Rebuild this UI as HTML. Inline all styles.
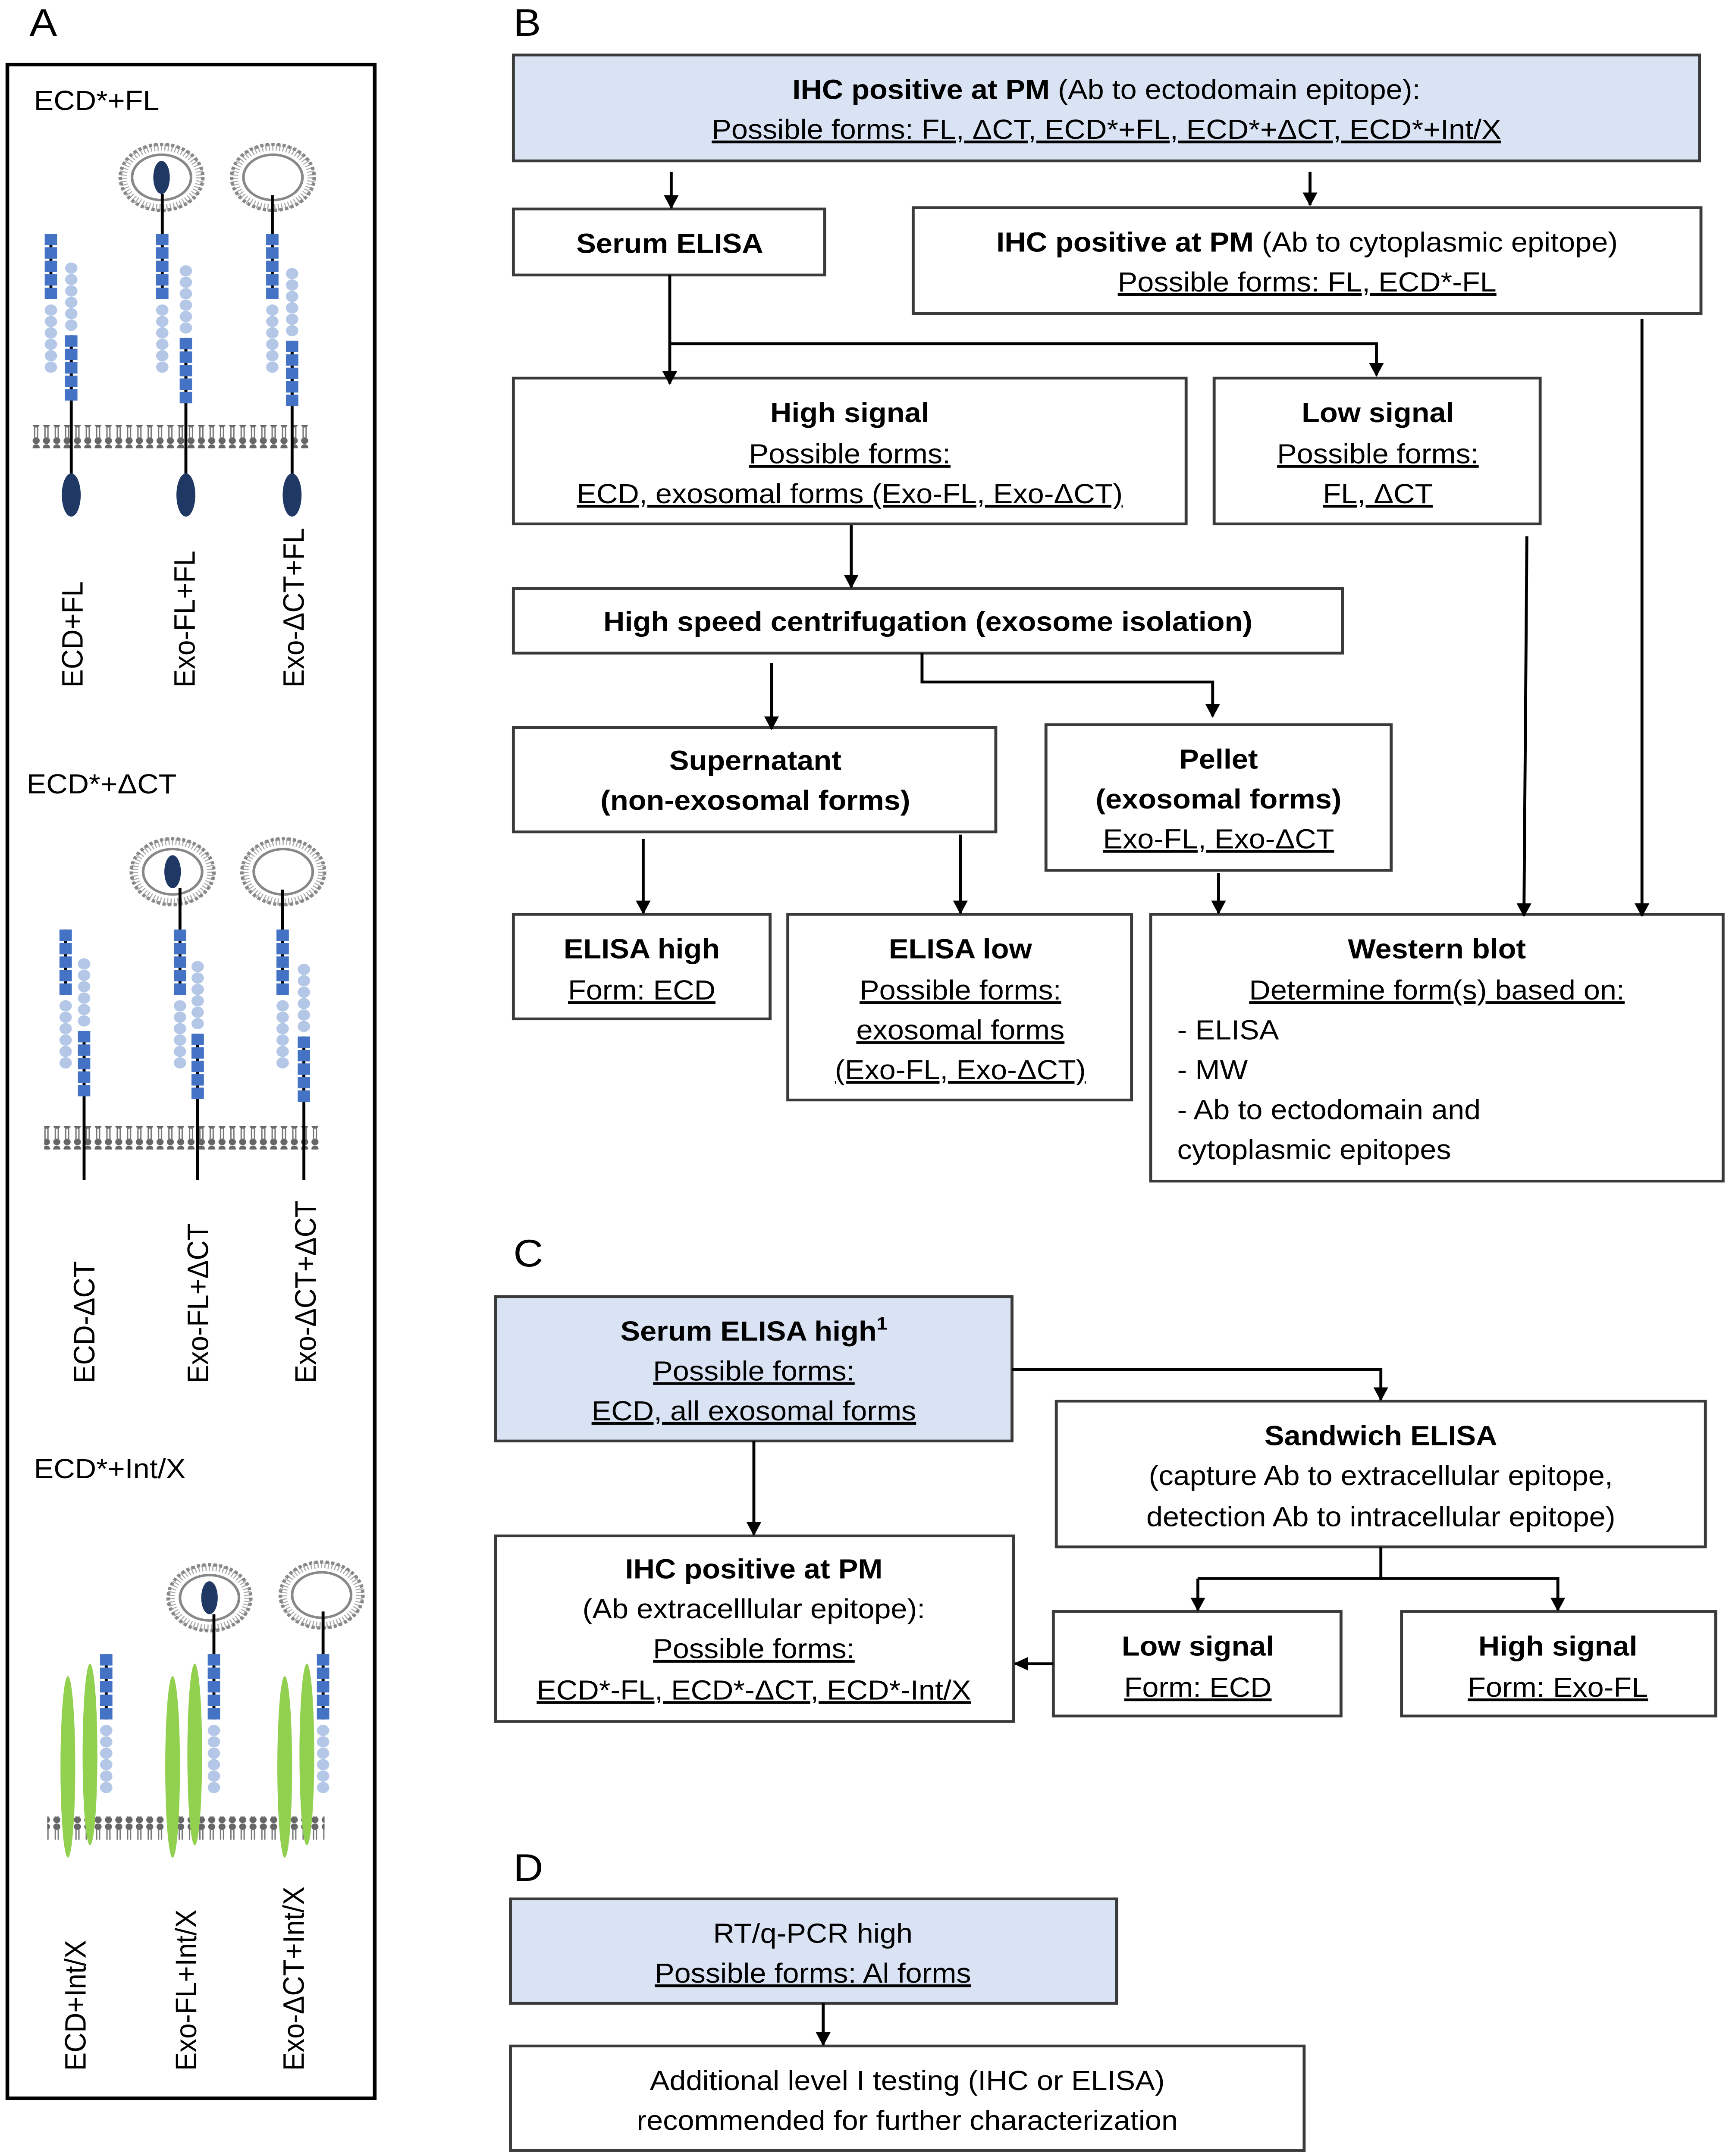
<!DOCTYPE html>
<html><head><meta charset="utf-8"><style>
html,body{margin:0;padding:0;background:#fff;overflow:hidden;width:100%;height:100%}
svg{display:block;width:100vw;height:100vh}
text{font-family:"Liberation Sans",sans-serif;font-size:20px;fill:#000}
.b{font-weight:bold}
.u{text-decoration:underline}
</style></head><body>
<svg id="s" xmlns="http://www.w3.org/2000/svg" viewBox="0 0 1172 1568" preserveAspectRatio="none">
<defs>
<marker id="ar" markerWidth="10" markerHeight="10" refX="9" refY="5" orient="auto" markerUnits="userSpaceOnUse"><path d="M0,0 L10,5 L0,10 z" fill="#000"/></marker>
<pattern id="mem" x="0" y="0" width="7" height="17" patternUnits="userSpaceOnUse">
<circle cx="3.5" cy="2.5" r="2.4" fill="#666"/><circle cx="3.5" cy="14.5" r="2.4" fill="#666"/>
<line x1="2.5" y1="4" x2="2.5" y2="13" stroke="#777" stroke-width="0.9"/><line x1="4.5" y1="4" x2="4.5" y2="13" stroke="#777" stroke-width="0.9"/>
</pattern>
</defs>
<rect width="1172" height="1568" fill="#fff"/>
<rect x="5" y="47" width="249" height="1479" fill="none" stroke="#000" stroke-width="2.5"/>
<text x="20" y="26" style="font-size:28px">A</text>
<text x="348" y="26" style="font-size:28px">B</text>
<text x="348" y="921" style="font-size:28px">C</text>
<text x="348" y="1368" style="font-size:28px">D</text>
<text x="23" y="80">ECD*+FL</text>
<text x="18" y="577">ECD*+ΔCT</text>
<text x="23" y="1075">ECD*+Int/X</text>
<g id="A"></g>
<g transform="rotate(-90 56 500)"><text x="56" y="500">ECD+FL</text></g>
<g transform="rotate(-90 132 500)"><text x="132" y="500">Exo-FL+FL</text></g>
<g transform="rotate(-90 206 500)"><text x="206" y="500">Exo-ΔCT+FL</text></g>
<g transform="rotate(-90 64 1006)"><text x="64" y="1006">ECD-ΔCT</text></g>
<g transform="rotate(-90 141 1006)"><text x="141" y="1006">Exo-FL+ΔCT</text></g>
<g transform="rotate(-90 214 1006)"><text x="214" y="1006">Exo-ΔCT+ΔCT</text></g>
<g transform="rotate(-90 58 1506)"><text x="58" y="1506">ECD+Int/X</text></g>
<g transform="rotate(-90 133 1506)"><text x="133" y="1506">Exo-FL+Int/X</text></g>
<g transform="rotate(-90 206 1506)"><text x="206" y="1506">Exo-ΔCT+Int/X</text></g>

<g fill="none" stroke="#3a3a3a" stroke-width="2">
<rect x="348" y="40" width="804" height="77" fill="#dae3f3"/>
<rect x="348" y="152" width="211" height="48"/>
<rect x="619" y="151" width="534" height="77"/>
<rect x="348" y="275" width="456" height="106"/>
<rect x="823" y="275" width="221" height="106"/>
<rect x="348" y="428" width="562" height="47"/>
<rect x="348" y="529" width="327" height="76"/>
<rect x="709" y="527" width="234" height="106"/>
<rect x="348" y="665" width="174" height="76"/>
<rect x="534" y="665" width="233" height="135"/>
<rect x="780" y="665" width="388" height="194"/>
<rect x="336" y="943" width="350" height="105" fill="#dae3f3"/>
<rect x="716" y="1019" width="440" height="106"/>
<rect x="336" y="1117" width="351" height="135"/>
<rect x="714" y="1172" width="195" height="76"/>
<rect x="950" y="1172" width="213" height="76"/>
<rect x="346" y="1381" width="411" height="76" fill="#dae3f3"/>
<rect x="346" y="1488" width="538" height="76"/>
</g>
<g fill="none" stroke="#000" stroke-width="2">
<line x1="455" y1="125" x2="455" y2="151" marker-end="url(#ar)"/>
<line x1="888" y1="125" x2="888" y2="149" marker-end="url(#ar)"/>
<line x1="454" y1="200" x2="454" y2="279" marker-end="url(#ar)"/>
<polyline points="454,250 933,250 933,273" marker-end="url(#ar)"/>
<line x1="577" y1="382" x2="577" y2="427" marker-end="url(#ar)"/>
<line x1="523" y1="482" x2="523" y2="530" marker-end="url(#ar)"/>
<polyline points="625,475 625,496 822,496 822,521" marker-end="url(#ar)"/>
<line x1="436" y1="610" x2="436" y2="664" marker-end="url(#ar)"/>
<line x1="651" y1="607" x2="651" y2="664" marker-end="url(#ar)"/>
<line x1="826" y1="635" x2="826" y2="664" marker-end="url(#ar)"/>
<line x1="1035" y1="390" x2="1033" y2="666" marker-end="url(#ar)"/>
<line x1="1113" y1="232" x2="1113" y2="666" marker-end="url(#ar)"/>
<polyline points="686,996 936,996 936,1018" marker-end="url(#ar)"/>
<line x1="511" y1="1048" x2="511" y2="1116" marker-end="url(#ar)"/>
<line x1="936" y1="1125" x2="936" y2="1148"/>
<polyline points="812,1148 812,1171" marker-end="url(#ar)"/>
<polyline points="812,1148 1056,1148 1056,1171" marker-end="url(#ar)"/>
<line x1="714" y1="1210" x2="688" y2="1210" marker-end="url(#ar)"/>
<line x1="558" y1="1457" x2="558" y2="1487" marker-end="url(#ar)"/>
</g>
<g text-anchor="middle">
<text x="750" y="72"><tspan class="b">IHC positive at PM</tspan> (Ab to ectodomain epitope):</text>
<text x="750" y="101" class="u">Possible forms: FL, ΔCT, ECD*+FL, ECD*+ΔCT, ECD*+Int/X</text>
<text x="454" y="184" class="b">Serum ELISA</text>
<text x="886" y="183"><tspan class="b">IHC positive at PM</tspan>  (Ab to cytoplasmic epitope)</text>
<text x="886" y="212" class="u">Possible forms: FL, ECD*-FL</text>
<text x="576" y="307" class="b">High signal</text>
<text x="576" y="337" class="u">Possible forms:</text>
<text x="576" y="366" class="u">ECD, exosomal forms (Exo-FL, Exo-ΔCT)</text>
<text x="934" y="307" class="b">Low signal</text>
<text x="934" y="337" class="u">Possible forms:</text>
<text x="934" y="366" class="u">FL, ΔCT</text>
<text x="629" y="459" class="b">High speed centrifugation (exosome isolation)</text>
<text x="512" y="560" class="b">Supernatant</text>
<text x="512" y="589" class="b">(non-exosomal forms)</text>
<text x="826" y="559" class="b">Pellet</text>
<text x="826" y="588" class="b">(exosomal forms)</text>
<text x="826" y="617" class="u">Exo-FL, Exo-ΔCT</text>
<text x="435" y="697" class="b">ELISA high</text>
<text x="435" y="727" class="u">Form: ECD</text>
<text x="651" y="697" class="b">ELISA low</text>
<text x="651" y="727" class="u">Possible forms:</text>
<text x="651" y="756" class="u">exosomal forms</text>
<text x="651" y="785" class="u">(Exo-FL, Exo-ΔCT)</text>
<text x="974" y="697" class="b">Western blot</text>
<text x="974" y="727" class="u">Determine form(s) based on:</text>
<text x="511" y="975" class="b">Serum ELISA high<tspan style="font-size:13px" dy="-8">1</tspan></text>
<text x="511" y="1004" class="u">Possible forms:</text>
<text x="511" y="1033" class="u">ECD, all exosomal forms</text>
<text x="936" y="1051" class="b">Sandwich ELISA</text>
<text x="936" y="1080">(capture Ab to extracellular epitope,</text>
<text x="936" y="1110">detection Ab to intracellular epitope)</text>
<text x="511" y="1148" class="b">IHC positive at PM</text>
<text x="511" y="1177">(Ab extracelllular epitope):</text>
<text x="511" y="1206" class="u">Possible forms:</text>
<text x="511" y="1236" class="u">ECD*-FL, ECD*-ΔCT, ECD*-Int/X</text>
<text x="812" y="1204" class="b">Low signal</text>
<text x="812" y="1234" class="u">Form: ECD</text>
<text x="1056" y="1204" class="b">High signal</text>
<text x="1056" y="1234" class="u">Form: Exo-FL</text>
<text x="551" y="1413">RT/q-PCR high</text>
<text x="551" y="1442" class="u">Possible forms: Al forms</text>
<text x="615" y="1520">Additional level I testing (IHC or ELISA)</text>
<text x="615" y="1549">recommended  for further characterization</text>
</g>
<text x="798" y="756">- ELISA</text>
<text x="798" y="785">- MW</text>
<text x="798" y="814">- Ab to ectodomain and</text>
<text x="798" y="843">cytoplasmic epitopes</text>
</svg>
<script>
var NS="http://www.w3.org/2000/svg",G=document.getElementById("A");
function el(t,a){var e=document.createElementNS(NS,t);for(var k in a)e.setAttribute(k,a[k]);G.appendChild(e);return e;}
function line(x,y1,y2){el("line",{x1:x,y1:y1,x2:x,y2:y2,stroke:"#000","stroke-width":2});}
function sq(x,top,n){line(x,top,top+n*9.8-1.5);for(var i=0;i<n;i++)el("rect",{x:x-4.2,y:top+i*9.8,width:8.4,height:8.3,fill:"#4472c4"});return top+n*9.8;}
function ci(x,c0,n){for(var i=0;i<n;i++)el("ellipse",{cx:x,cy:c0+i*8.3,rx:4.2,ry:4.1,fill:"#b4c7e7"});}
function ves(x,y,dark){el("ellipse",{cx:x,cy:y,rx:26,ry:22,fill:"none",stroke:"#aaa","stroke-width":5,"stroke-dasharray":"0.8 1.6"});
el("ellipse",{cx:x,cy:y,rx:28,ry:24,fill:"none",stroke:"#888","stroke-width":2.4,"stroke-dasharray":"2.2 1.6"});
el("ellipse",{cx:x,cy:y,rx:20,ry:16.5,fill:"none",stroke:"#888","stroke-width":1.8});
if(dark)el("ellipse",{cx:x,cy:y,rx:5.6,ry:12,fill:"#1f3864"});}
function mem(x1,x2,y){el("rect",{x:x1,y:y,width:x2-x1,height:17,fill:"url(#mem)"});}
function ecd(x1,x2,top,cTop2,endY,dark){
 var e=sq(x1,top,5);ci(x1,e+6.5,6);
 ci(x2,cTop2,6);var s2=cTop2+6*8.3-1;line(x2,s2,endY);sq(x2,s2,5);
 if(dark)el("ellipse",{cx:x2,cy:360,rx:6.4,ry:15.7,fill:"#1f3864"});}
mem(22,210,309);
ecd(34.5,48.3,170,195,347,true);
ves(109.5,129,true);line(110,141,170);ecd(110,126,170,197,347,true);
ves(185,129,false);line(184.6,142,170);ecd(184.6,198,170,199,347,true);
mem(30,217,819);
ecd(44.5,57,676,701,858,false);
ves(117,634,true);line(122,646,676);ecd(122,134,676,703,858,false);
ves(192,634,false);line(191.6,647,676);ecd(191.6,206,676,705,858,false);
mem(32,220,1321);
function green(x,cy){el("ellipse",{cx:x,cy:cy,rx:5,ry:66,fill:"#92d050"});}
green(46,1285);green(61,1276);var e=sq(72,1203,5);ci(72,e+6.5,6);
ves(142,1162,true);line(145,1174,1203);green(117,1285);green(132,1276);e=sq(145,1203,5);ci(145,e+6.5,6);
ves(218,1160,false);line(219,1172,1203);green(193,1285);green(208,1276);e=sq(219,1203,5);ci(219,e+6.5,6);
</script>
</body></html>
